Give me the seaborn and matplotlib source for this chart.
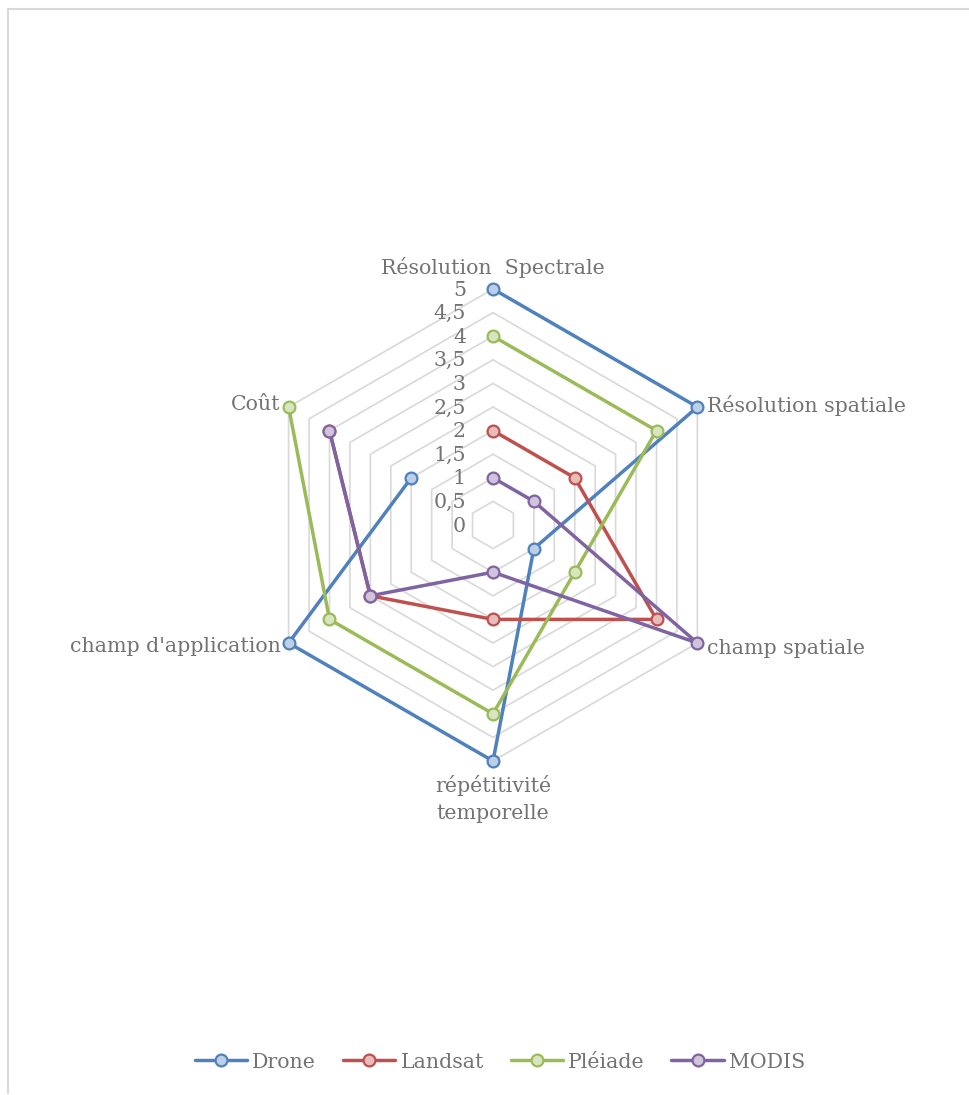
import numpy as np
import pandas as pd
import matplotlib
matplotlib.use("Agg")
import matplotlib.pyplot as plt
import matplotlib.colors as mcolors
from matplotlib.lines import Line2D
import seaborn as sns

categories = ["Résolution  Spectrale", "Résolution spatiale", "champ spatiale",
              "répétitivité\ntemporelle", "champ d'application", "Coût"]
series_names = ["Drone", "Landsat", "Pléiade", "MODIS"]
drone = [5, 5, 1, 5, 5, 2]
landsat = [2, 2, 4, 2, 3, 4]
pleiade = [4, 4, 2, 4, 4, 5]
modis = [1, 1, 5, 1, 3, 4]
tick_values = [0, 0.5, 1, 1.5, 2, 2.5, 3, 3.5, 4, 4.5, 5]
tick_labels = ["0", "0,5", "1", "1,5", "2", "2,5", "3", "3,5", "4", "4,5", "5"]
colors = ["#4F81BD", "#C0504D", "#9BBB59", "#8064A2"]
values = [drone, landsat, pleiade, modis]

sns.set_theme(style="white")
plt.rcParams['font.family'] = ['DejaVu Serif']
text_color = "#737373"
FS = 14.8

W, H = 969, 1095
fig = plt.figure(figsize=(W / 100, H / 100), dpi=100)

cx, cy, R = 493, 525, 236
ax = fig.add_axes([(cx - R) / W, (H - cy - R) / H, 2 * R / W, 2 * R / H], projection="polar")
ax.set_theta_offset(np.pi / 2)
ax.set_theta_direction(-1)
ax.set_ylim(0, 5)
ax.grid(False)
ax.spines["polar"].set_visible(False)
ax.patch.set_alpha(0)

n = len(categories)
angles = np.arange(n) * 2 * np.pi / n
closed_angles = np.append(angles, angles[0])

# hexagonal grid rings
for tv in tick_values[1:]:
    ax.plot(closed_angles, [tv] * (n + 1), color="#d9d9d9", lw=1.2, zorder=1)


def lighten(col, f=0.62):
    return tuple((1 - f) * c + f for c in mcolors.to_rgb(col))


# series
for name, vals, col in zip(series_names, values, colors):
    df = pd.DataFrame({"theta": closed_angles, "value": list(vals) + [vals[0]]})
    sns.lineplot(data=df, x="theta", y="value", sort=False, ax=ax, color=col,
                 lw=2.5, marker="o", markersize=8.5, markerfacecolor=lighten(col),
                 markeredgecolor=col, markeredgewidth=1.6, legend=False, zorder=3,
                 clip_on=False)
ax.set_xlabel("")
ax.set_ylabel("")
ax.set_xticks([])
ax.set_yticks([])

# radial tick labels
for tv, tl in zip(tick_values, tick_labels):
    ax.annotate(tl, xy=(0, tv), xytext=(-27, -1), textcoords="offset pixels",
                ha="right", va="center", fontsize=FS, color=text_color, zorder=2)

# category labels
label_specs = [
    ((0, 11), "center", "bottom"),
    ((10, 2), "left", "center"),
    ((10, -6), "left", "center"),
    ((0, -14), "center", "top"),
    ((-8, -4), "right", "center"),
    ((-8, 2), "right", "center"),
]
for ang, lab, (off, ha, va) in zip(angles, categories, label_specs):
    ax.annotate(lab, xy=(ang, 5), xytext=off, textcoords="offset pixels",
                ha=ha, va=va, fontsize=FS, color=text_color, linespacing=1.55,
                annotation_clip=False)

# legend
handles = []
for name, col in zip(series_names, colors):
    handles.append(Line2D([], [], color=col, lw=2.5, marker="o", markersize=8.5,
                          markerfacecolor=lighten(col), markeredgecolor=col,
                          markeredgewidth=1.6))
leg = fig.legend(handles, series_names, loc="center", ncol=4,
                 bbox_to_anchor=(0.516, 1 - 1062 / H), frameon=False,
                 fontsize=FS, handlelength=2.55, handletextpad=0.25, columnspacing=1.3)
for t in leg.get_texts():
    t.set_color(text_color)

# chart frame
fig.add_artist(Line2D([8 / W, 8 / W], [1 - 9 / H, 1 - 1093 / H], transform=fig.transFigure,
                      color="#d9d9d9", lw=1.5))
fig.add_artist(Line2D([8 / W, 1.0], [1 - 9 / H, 1 - 9 / H], transform=fig.transFigure,
                      color="#d9d9d9", lw=1.5))

fig.savefig("out.png", dpi=100, facecolor="white")
